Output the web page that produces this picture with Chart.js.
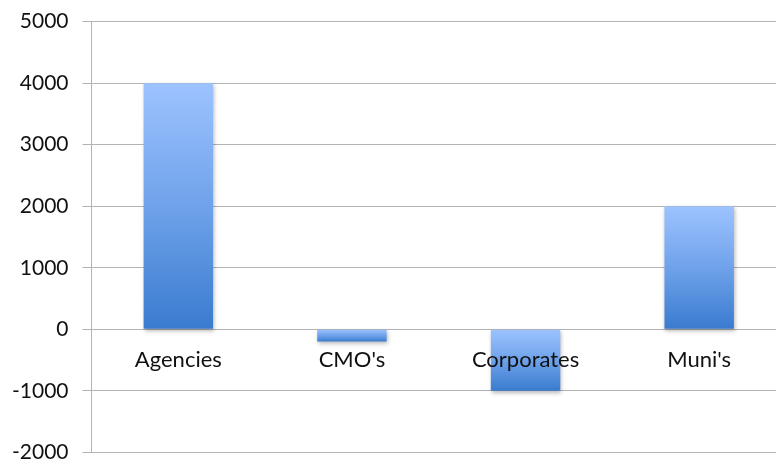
<!DOCTYPE html>
<html>
<head>
<meta charset="utf-8">
<script src="https://cdn.jsdelivr.net/npm/chart.js@4/dist/chart.umd.min.js"></script>
<style>
  html, body { margin: 0; padding: 0; background: #fff; overflow: hidden; }
  #wrap { width: 800px; height: 484px; margin: -5px 0 0 -2px; }
</style>
</head>
<body>
<div id="wrap"><canvas id="holdings-chart" width="800" height="484"></canvas></div>
<script>
const categories = ["Agencies", "CMO's", "Corporates", "Muni's"];
const netChange = [4000, -200, -1000, 2000];
const yMin = -2000;
const yMax = 5000;
const yStep = 1000;

(function () {
    const canvas = document.getElementById('holdings-chart');

    // each bar gets its own top-to-bottom gradient, light on top
    function barFill(context) {
        const chart = context.chart;
        if (!chart.chartArea || context.dataIndex === undefined) return '#6a9ee6';
        const y = chart.scales.y;
        const v = context.raw;
        const top = y.getPixelForValue(Math.max(v, 0));
        const bottom = y.getPixelForValue(Math.min(v, 0));
        if (!isFinite(top) || !isFinite(bottom) || top === bottom) return '#6a9ee6';
        const g = chart.ctx.createLinearGradient(0, top, 0, bottom);
        g.addColorStop(0, '#9dc3ff');
        g.addColorStop(0.5, '#6fa2ea');
        g.addColorStop(1, '#3a7bcf');
        return g;
    }

    const barShadow = {
        id: 'barShadow',
        beforeDatasetsDraw(chart) {
            const ctx = chart.ctx;
            ctx.save();
            ctx.shadowColor = 'rgba(0,0,0,0.28)';
            ctx.shadowBlur = 4;
            ctx.shadowOffsetX = 1;
            ctx.shadowOffsetY = 2;
        },
        afterDatasetsDraw(chart) {
            chart.ctx.restore();
        }
    };

    new Chart(canvas, {
        type: 'bar',
        data: {
            labels: categories,
            datasets: [{
                data: netChange,
                backgroundColor: barFill,
                borderWidth: 0,
                categoryPercentage: 1,
                barPercentage: 0.4
            }]
        },
        plugins: [barShadow],
        options: {
            responsive: false,
            animation: false,
            layout: {
                padding: { left: 0, right: 12, top: 5, bottom: 0 }
            },
            scales: {
                x: {
                    position: { y: 0 },
                    grid: { display: false, drawTicks: false },
                    border: { display: true, color: '#b3b3b3', width: 1 },
                    ticks: {
                        z: 1,
                        color: '#111',
                        padding: 17,
                        font: { family: 'Lato', size: 22 }
                    }
                },
                y: {
                    min: yMin,
                    max: yMax,
                    grid: { color: '#b3b3b3', tickLength: 9, lineWidth: 1 },
                    border: { display: true, color: '#b3b3b3', width: 1 },
                    ticks: {
                        stepSize: yStep,
                        color: '#111',
                        padding: 14,
                        font: { family: 'Lato', size: 21 },
                        callback: (v) => String(v)
                    }
                }
            },
            plugins: {
                legend: { display: false },
                tooltip: { enabled: false }
            }
        }
    });
})();
</script>
</body>
</html>
